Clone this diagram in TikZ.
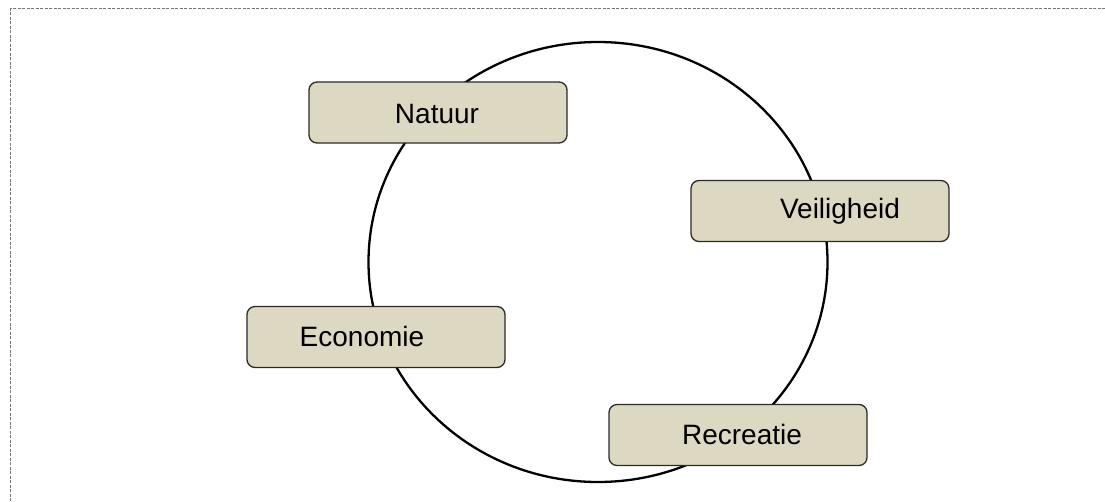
\documentclass[tikz,border=0pt]{standalone}
\usepackage{fontspec}
\setmainfont{Liberation Sans}
\definecolor{boxfill}{HTML}{DDD8C2}
\definecolor{boxline}{HTML}{2A2A2A}
\definecolor{frameline}{HTML}{777777}
\begin{document}
\begin{tikzpicture}[x=1pt,y=-1pt,
  topic/.style={draw=boxline, line width=1.3pt, fill=boxfill, rounded corners=8pt,
    minimum width=258pt, minimum height=61pt, inner sep=0pt},
  lbl/.style={anchor=base, inner sep=0pt, font=\fontsize{28pt}{32pt}\selectfont},
  ring/.style={draw=black, line width=2.3pt},
  frame/.style={draw=frameline, line width=1.5pt, dash pattern=on 3pt off 1.5pt}]
  \useasboundingbox (0,0) rectangle (1105,501);
  % page frame (top and left edges)
  \draw[frame] (10.5,501) -- (10.5,8.5) -- (1105,8.5);
  % the cycle
  \draw[ring] (598,262) ellipse [x radius=229.5, y radius=220];
  % topic boxes
  \node[topic] (natuur) at (438,112.5) {};
  \node[topic] (veilig) at (820,211) {};
  \node[topic] (econ) at (376,337) {};
  \node[topic] (recr) at (738,435) {};
  % labels
  \node[lbl] at (437,123) {Natuur};
  \node[lbl] at (840,218) {Veiligheid};
  \node[lbl] at (362,346.5) {Economie};
  \node[lbl] at (742,444) {Recreatie};
\end{tikzpicture}
\end{document}
